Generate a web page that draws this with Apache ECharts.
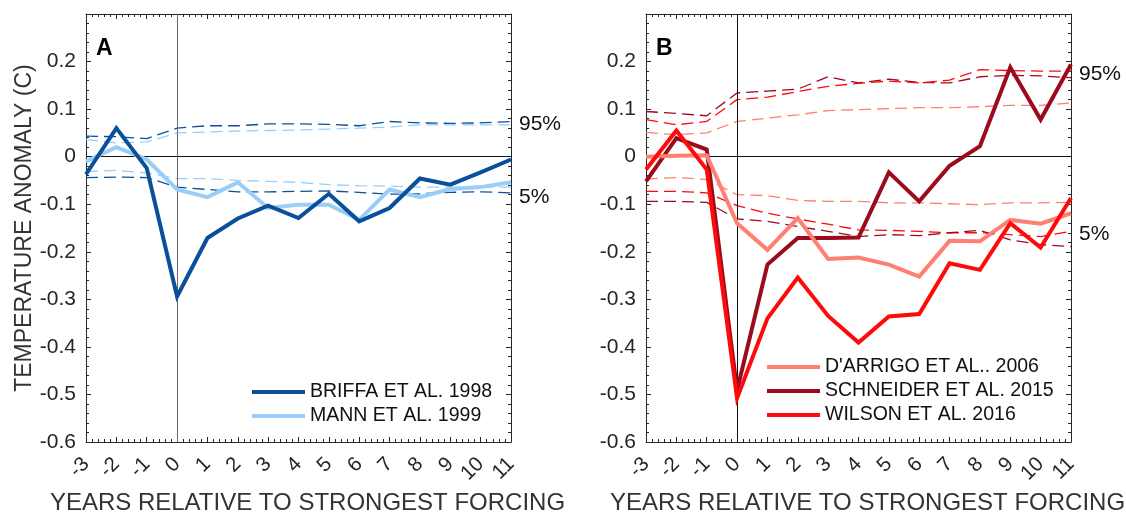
<!DOCTYPE html>
<html>
<head>
<meta charset="utf-8">
<script src="https://cdn.jsdelivr.net/npm/echarts@6/dist/echarts.min.js"></script>
<style>
html,body{margin:0;padding:0;background:#fff;}
#chart{width:1126px;height:513px;}
</style>
</head>
<body>
<div id="chart"></div>
<script>
const years = [-3,-2,-1,0,1,2,3,4,5,6,7,8,9,10,11];
const yTicks = [-0.6,-0.5,-0.4,-0.3,-0.2,-0.1,0,0.1,0.2];

const briffa   = [-0.037,0.060,-0.024,-0.294,-0.171,-0.130,-0.103,-0.129,-0.078,-0.136,-0.108,-0.046,-0.059,-0.033,-0.006];
const mann     = [-0.010,0.020,-0.006,-0.069,-0.085,-0.054,-0.108,-0.101,-0.101,-0.133,-0.069,-0.085,-0.068,-0.064,-0.054];
const briffa95 = [0.043,0.042,0.038,0.060,0.065,0.065,0.069,0.069,0.068,0.065,0.074,0.071,0.070,0.071,0.074];
const mann95   = [0.036,0.029,0.031,0.050,0.052,0.054,0.055,0.056,0.058,0.060,0.062,0.067,0.067,0.067,0.067];
const briffa5  = [-0.044,-0.043,-0.044,-0.064,-0.069,-0.074,-0.074,-0.073,-0.072,-0.075,-0.079,-0.078,-0.075,-0.074,-0.076];
const mann5    = [-0.031,-0.029,-0.034,-0.046,-0.046,-0.050,-0.052,-0.054,-0.059,-0.061,-0.062,-0.064,-0.064,-0.064,-0.064];

const darrigo   = [0.000,0.002,0.003,-0.140,-0.196,-0.129,-0.215,-0.212,-0.227,-0.252,-0.177,-0.178,-0.133,-0.141,-0.119];
const schneider = [-0.052,0.039,0.015,-0.491,-0.227,-0.171,-0.171,-0.170,-0.033,-0.094,-0.019,0.022,0.188,0.078,0.194];
const wilson    = [-0.027,0.055,-0.027,-0.508,-0.340,-0.254,-0.335,-0.391,-0.336,-0.331,-0.224,-0.238,-0.140,-0.191,-0.087];
const schneider95 = [0.095,0.091,0.086,0.134,0.138,0.142,0.168,0.155,0.163,0.156,0.155,0.168,0.171,0.170,0.166];
const wilson95    = [0.078,0.067,0.074,0.120,0.125,0.137,0.148,0.154,0.159,0.155,0.161,0.183,0.181,0.180,0.180];
const darrigo95   = [0.051,0.046,0.050,0.074,0.081,0.088,0.097,0.099,0.101,0.103,0.103,0.105,0.108,0.108,0.113];
const darrigo5    = [-0.047,-0.044,-0.048,-0.080,-0.082,-0.092,-0.094,-0.094,-0.097,-0.097,-0.099,-0.101,-0.097,-0.097,-0.096];
const wilson5     = [-0.073,-0.073,-0.076,-0.103,-0.119,-0.131,-0.142,-0.154,-0.155,-0.157,-0.160,-0.160,-0.164,-0.168,-0.157];
const schneider5  = [-0.094,-0.094,-0.096,-0.131,-0.136,-0.147,-0.157,-0.168,-0.164,-0.166,-0.160,-0.155,-0.175,-0.185,-0.189];

const names = {
  briffa: 'BRIFFA ET AL. 1998',
  mann: 'MANN ET AL. 1999',
  darrigo: "D'ARRIGO ET AL.. 2006",
  schneider: 'SCHNEIDER ET AL. 2015',
  wilson: 'WILSON ET AL. 2016'
};
const colors = {
  briffa: '#0b4f9b',
  mann: '#9acdf7',
  darrigo: '#ff7f72',
  schneider: '#9c0b1d',
  wilson: '#ff0a0a'
};

const FONT = 'Liberation Sans, Arial, Helvetica, sans-serif';
const AX = '#262626';

function pts(arr){ return years.map((x,i)=>[x, arr[i]]); }

function xAxisCfg(grid, pos, withLabels){
  return {
    type:'value', gridIndex:grid, position:pos, min:-3, max:11, interval:1,
    axisLine:{show:true, onZero:false, lineStyle:{color:AX, width:1}},
    axisTick:{show:true, inside:true, length:5, lineStyle:{color:AX, width:1}},
    minorTick:{show:true, splitNumber:5, length:3, lineStyle:{color:AX, width:1}},
    splitLine:{show:false}, minorSplitLine:{show:false},
    axisLabel:{show:withLabels, rotate:45, margin:19, fontSize:20.5, color:AX, fontFamily:FONT,
      showMinLabel:true, showMaxLabel:true, hideOverlap:false, interval:0},
    name: withLabels ? 'YEARS RELATIVE TO STRONGEST FORCING' : '',
    nameLocation:'middle', nameGap:48,
    nameTextStyle:{fontSize:24, color:'#333', fontFamily:FONT, padding:[0,0,0,18]}
  };
}
function yAxisCfg(grid, pos, withLabels, name){
  return {
    type:'value', gridIndex:grid, position:pos, min:-0.6, max:0.3, interval:0.1,
    axisLine:{show:true, onZero:false, lineStyle:{color:AX, width:1}},
    axisTick:{show:true, inside:true, length:5, lineStyle:{color:AX, width:1}},
    minorTick:{show:true, splitNumber:5, length:3, lineStyle:{color:AX, width:1}},
    splitLine:{show:false}, minorSplitLine:{show:false},
    axisLabel:{show:withLabels, margin:10, fontSize:21, color:AX, fontFamily:FONT,
      formatter: v => {
        const r = Math.round(v*10)/10;
        return yTicks.some(t => Math.abs(t - r) < 1e-9) ? String(r) : '';
      }},
    name: name || '', nameLocation:'middle', nameGap:50,
    nameTextStyle:{fontSize:23, color:'#333', fontFamily:FONT}
  };
}

function mainSeries(key, xi, yi, z){
  return {
    name:names[key], type:'line', xAxisIndex:xi, yAxisIndex:yi,
    data:pts({briffa,mann,darrigo,schneider,wilson}[key]),
    color:colors[key], showSymbol:false, symbol:'none', z:z,
    lineStyle:{color:colors[key], width:4, join:'miter'}, silent:true
  };
}
function dashSeries(id, arr, key, xi, yi, label, dy){
  const s = {
    name:id, type:'line', xAxisIndex:xi, yAxisIndex:yi, data:pts(arr),
    color:colors[key], showSymbol:false, symbol:'none', z:2, silent:true,
    lineStyle:{color:colors[key], width:1.3, type:[12,6]}
  };
  if (label) {
    s.endLabel = {show:true, formatter:label, distance:8, offset:[0, dy || 3],
      fontSize:21, color:'#111', fontFamily:FONT};
  }
  return s;
}
function refLines(vColor){
  return {
    silent:true, symbol:['none','none'], label:{show:false},
    data:[
      {yAxis:0, lineStyle:{color:'#111', width:1, type:'solid'}},
      {xAxis:0, lineStyle:{color:vColor, width:1, type:'solid'}}
    ]
  };
}

const sBriffa = mainSeries('briffa',0,0,6);
sBriffa.markLine = refLines('#6a6a6a');
const sSchneider = mainSeries('schneider',2,2,5);
sSchneider.markLine = refLines('#111');

const option = {
  animation:false,
  backgroundColor:'#fff',
  textStyle:{fontFamily:FONT},
  title:[
    {text:'A', left:96, top:37, padding:0, textStyle:{fontSize:23, fontWeight:'bold', color:'#000', fontFamily:FONT}},
    {text:'B', left:656, top:37, padding:0, textStyle:{fontSize:23, fontWeight:'bold', color:'#000', fontFamily:FONT}}
  ],
  grid:[
    {left:86, top:14, width:425, height:428, containLabel:false, outerBoundsMode:'none'},
    {left:646, top:14, width:425, height:428, containLabel:false, outerBoundsMode:'none'}
  ],
  legend:[
    {data:[names.briffa, names.mann], orient:'vertical', left:252, top:382, padding:0,
     itemWidth:53, itemHeight:4, itemGap:4, icon:'rect', selectedMode:false,
     textStyle:{fontSize:19.5, color:'#111', lineHeight:20, fontFamily:FONT}},
    {data:[names.darrigo, names.schneider, names.wilson], orient:'vertical', left:767, top:357, padding:0,
     itemWidth:53, itemHeight:4, itemGap:4, icon:'rect', selectedMode:false,
     textStyle:{fontSize:19.5, color:'#111', lineHeight:20, fontFamily:FONT}}
  ],
  xAxis:[
    xAxisCfg(0,'bottom',true),
    xAxisCfg(0,'top',false),
    xAxisCfg(1,'bottom',true),
    xAxisCfg(1,'top',false)
  ],
  yAxis:[
    yAxisCfg(0,'left',true,'TEMPERATURE ANOMALY (C)'),
    yAxisCfg(0,'right',false),
    yAxisCfg(1,'left',true),
    yAxisCfg(1,'right',false)
  ],
  series:[
    dashSeries('b95', briffa95, 'briffa', 0,0, '95%', 3),
    dashSeries('m95', mann95, 'mann', 0,0),
    dashSeries('b5', briffa5, 'briffa', 0,0, '5%', 4),
    dashSeries('m5', mann5, 'mann', 0,0),
    mainSeries('mann',0,0,5),
    sBriffa,
    dashSeries('s95', schneider95, 'schneider', 2,2),
    dashSeries('w95', wilson95, 'wilson', 2,2, '95%', 3),
    dashSeries('d95', darrigo95, 'darrigo', 2,2),
    dashSeries('d5', darrigo5, 'darrigo', 2,2),
    dashSeries('w5', wilson5, 'wilson', 2,2, '5%', 3),
    dashSeries('s5', schneider5, 'schneider', 2,2),
    mainSeries('darrigo',2,2,6),
    sSchneider,
    mainSeries('wilson',2,2,7)
  ]
};

const chart = echarts.init(document.getElementById('chart'), null, {renderer:'canvas'});
chart.setOption(option);
</script>
</body>
</html>
